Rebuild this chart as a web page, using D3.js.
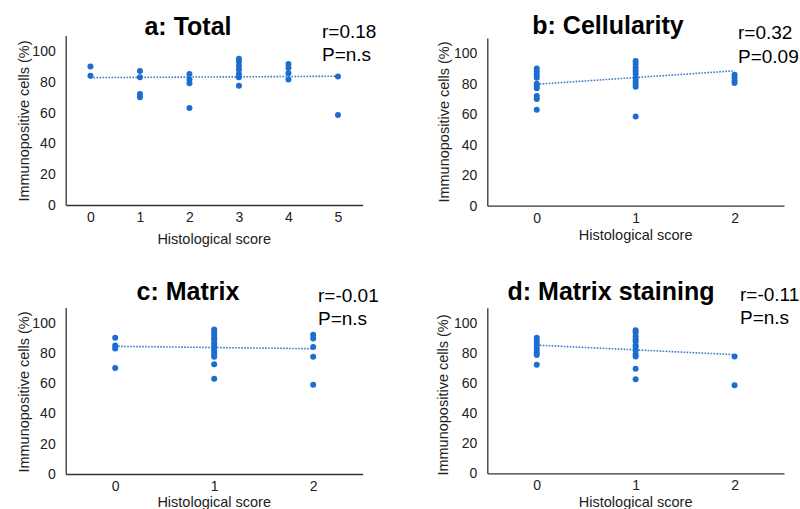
<!DOCTYPE html>
<html lang="en">
<head>
  <meta charset="UTF-8">
  <title>Immunopositive cells vs histological score</title>
  <style>
    body { margin: 0; background: #fff; }
    svg { display: block; font-family: Arial, "Liberation Sans", sans-serif; }
    .axis path { stroke: #333; stroke-width: 1.3px; }
    .axis line { display: none; }
    .axis text { font-size: 14px; fill: #222; }
    .dot { fill: #1c6dd0; }
    .trend { stroke: #3f7cc8; stroke-width: 1.6px; stroke-dasharray: 1.6 1.4; fill: none; }
    .title { font-size: 25px; font-weight: bold; }
    .stat { font-size: 19px; }
    .axis-label { font-size: 14.5px; fill: #222; }
  </style>
</head>
<body>
  <script src="https://d3js.org/d3.v7.min.js"></script>
  <script>
    // values per histological score (index = score)
    const totalValues = [
      [90, 84],
      [87, 83, 72, 70],
      [85, 81.5, 79, 63],
      [95, 93, 90.5, 88, 85, 83, 77.5],
      [91.5, 89, 85.5, 81.5],
      [83.5, 58.5]
    ];
    const cellularityValues = [
      [90, 88, 86, 84, 80, 78.5, 77, 72, 70, 63],
      [95, 93, 90.5, 88.5, 86.5, 84, 82, 80, 78, 58.5],
      [86, 84, 82, 80.5]
    ];
    const matrixValues = [
      [90, 85, 83, 70],
      [95.5, 94, 92, 90, 88.5, 86.5, 84.5, 83, 81, 79, 77.5, 72.5, 63],
      [92, 89.5, 84, 77.5, 59]
    ];
    const stainingValues = [
      [90, 88, 86, 84, 82, 80, 78.5, 72],
      [95, 93.5, 91, 89, 87.5, 85, 83.5, 81.5, 79, 77.5, 69.5, 62.5],
      [77.5, 58.5]
    ];

    // fitted line value at lowest and highest score
    const totalTrend = [82.7, 83.6];
    const cellularityTrend = [79.7, 88.5];
    const matrixTrend = [84.4, 82.8];
    const stainingTrend = [85.1, 78.8];

    const titles = ["a: Total", "b: Cellularity", "c: Matrix", "d: Matrix staining"];
    const rLabels = ["r=0.18", "r=0.32", "r=-0.01", "r=-0.11"];
    const pLabels = ["P=n.s", "P=0.09", "P=n.s", "P=n.s"];
    const yTicks = [0, 20, 40, 60, 80, 100];

    const panels = [
      { values: totalValues, trend: totalTrend, left: 65.7, right: 362.7, y0: 205, y100: 51,
        titleX: 188, titleY: 35, statX: 322, statY: 37.5, xLabY: 244, yLabX: 24, yLabY: 121 },
      { values: cellularityValues, trend: cellularityTrend, left: 487.3, right: 784, y0: 205.7, y100: 53.3,
        titleX: 608, titleY: 33.5, statX: 738, statY: 39, xLabY: 240, yLabX: 444, yLabY: 122 },
      { values: matrixValues, trend: matrixTrend, left: 65.7, right: 362.7, y0: 474, y100: 322.7,
        titleX: 188, titleY: 299.5, statX: 318, statY: 301.5, xLabY: 506.5, yLabX: 24, yLabY: 392 },
      { values: stainingValues, trend: stainingTrend, left: 487.3, right: 784, y0: 473.3, y100: 322.7,
        titleX: 611, titleY: 299.5, statX: 740, statY: 300.5, xLabY: 506.5, yLabX: 443, yLabY: 395 }
    ];

    const width = 800, height = 509;
    const svg = d3.select("body").append("svg").attr("width", width).attr("height", height);

    panels.forEach((p, i) => {
      const maxScore = p.values.length - 1;
      const x = d3.scaleLinear().domain([-0.5, maxScore + 0.5]).range([p.left, p.right]);
      const yTop = p.y0 - (p.y0 - p.y100) * 1.1;
      const y = d3.scaleLinear().domain([0, 110]).range([p.y0, yTop]);

      const g = svg.append("g");

      g.append("g").attr("class", "axis")
        .attr("transform", `translate(0,${p.y0})`)
        .call(d3.axisBottom(x).tickValues(d3.range(0, maxScore + 1)).tickFormat(d3.format("d"))
          .tickSize(0).tickSizeOuter(0).tickPadding(7));

      g.append("g").attr("class", "axis")
        .attr("transform", `translate(${p.left},0)`)
        .call(d3.axisLeft(y).tickValues(yTicks).tickSize(0).tickSizeOuter(0).tickPadding(10));

      const points = p.values.flatMap((vals, score) => vals.map(v => ({ score, v })));

      g.append("line").attr("class", "trend")
        .attr("x1", x(0)).attr("y1", y(p.trend[0]))
        .attr("x2", x(maxScore)).attr("y2", y(p.trend[1]));

      g.selectAll("circle").data(points).enter().append("circle")
        .attr("class", "dot")
        .attr("cx", d => x(d.score))
        .attr("cy", d => y(d.v))
        .attr("r", 3);

      g.append("text").attr("class", "title")
        .attr("x", p.titleX).attr("y", p.titleY).attr("text-anchor", "middle")
        .text(titles[i]);

      g.append("text").attr("class", "stat")
        .attr("x", p.statX).attr("y", p.statY).text(rLabels[i]);
      g.append("text").attr("class", "stat")
        .attr("x", p.statX).attr("y", p.statY + 23.5).text(pLabels[i]);

      g.append("text").attr("class", "axis-label")
        .attr("x", (p.left + p.right) / 2).attr("y", p.xLabY).attr("text-anchor", "middle")
        .text("Histological score");

      g.append("text").attr("class", "axis-label")
        .attr("transform", `translate(${p.yLabX},${p.yLabY}) rotate(-90)`)
        .attr("text-anchor", "middle").attr("dy", "0.35em")
        .text("Immunopositive cells (%)");
    });
  </script>
</body>
</html>
